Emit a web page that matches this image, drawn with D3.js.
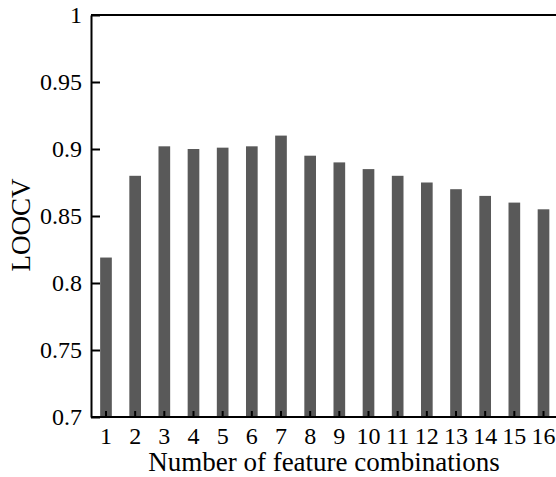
<!DOCTYPE html>
<html>
<head>
<meta charset="utf-8">
<script src="https://cdn.jsdelivr.net/npm/d3@7"></script>
<style>
  body { margin: 0; background: #fff; }
  .axis path, .axis line { stroke: #000; stroke-width: 2px; }
</style>
</head>
<body>
<div id="chart"></div>
<script>
// chart data
var combos = ["1", "2", "3", "4", "5", "6", "7", "8", "9", "10", "11", "12", "13", "14", "15", "16"];
var loocv = [0.819, 0.880, 0.902, 0.900, 0.901, 0.902, 0.910, 0.895, 0.890, 0.885, 0.880, 0.875, 0.870, 0.865, 0.860, 0.855];
var yTicks = [0.7, 0.75, 0.8, 0.85, 0.9, 0.95, 1];

var w = 556;
var h = 477;
var padLeft = 91, padTop = 15, padBottom = 417, padRight = 558.5;
var serif = "'Liberation Serif', 'Times New Roman', serif";

var svg = d3.select("#chart")
  .append("svg")
  .attr("width", w)
  .attr("height", h);

var xScale = d3.scaleBand()
  .domain(combos)
  .range([padLeft, padRight])
  .paddingInner(0.6)
  .paddingOuter(0.314);

var yScale = d3.scaleLinear()
  .domain([0.7, 1])
  .range([padBottom, padTop]);

// bars
svg.selectAll("rect.bar")
  .data(loocv)
  .enter()
  .append("rect")
  .attr("class", "bar")
  .attr("x", function(d, i) { return xScale(combos[i]); })
  .attr("y", function(d) { return yScale(d); })
  .attr("width", xScale.bandwidth())
  .attr("height", function(d) { return padBottom - yScale(d); })
  .attr("fill", "#595959");

// top frame line
svg.append("line")
  .attr("x1", padLeft).attr("x2", w + 5)
  .attr("y1", padTop).attr("y2", padTop)
  .attr("stroke", "#000")
  .attr("stroke-width", 2);

// axes (ticks point inward)
var xAxis = d3.axisBottom(xScale)
  .tickSizeInner(-6)
  .tickSizeOuter(0)
  .tickPadding(10);

var yAxis = d3.axisLeft(yScale)
  .tickValues(yTicks)
  .tickFormat(function(d) { return String(+d.toFixed(2)); })
  .tickSizeInner(-9)
  .tickSizeOuter(0)
  .tickPadding(9);

svg.append("g")
  .attr("class", "x axis")
  .attr("transform", "translate(0," + padBottom + ")")
  .attr("font-family", serif)
  .attr("font-size", 24)
  .call(xAxis);

svg.append("g")
  .attr("class", "y axis")
  .attr("transform", "translate(" + padLeft + ",0)")
  .attr("font-family", serif)
  .attr("font-size", 24)
  .call(yAxis);

// d3 axis resets the font, so set it again on the group
svg.selectAll(".axis")
  .attr("font-family", serif)
  .attr("font-size", 24);

// axis baseline spans the full plot width
svg.select(".x.axis .domain")
  .attr("d", "M" + padLeft + ",0H" + (w + 5));

// axis titles
svg.append("text")
  .attr("x", 324)
  .attr("y", 471)
  .style("text-anchor", "middle")
  .style("font-family", serif)
  .style("font-size", "27px")
  .text("Number of feature combinations");

svg.append("text")
  .attr("transform", "translate(30," + 225 + ") rotate(-90)")
  .style("text-anchor", "middle")
  .style("font-family", serif)
  .style("font-size", "27px")
  .text("LOOCV");
</script>
</body>
</html>
